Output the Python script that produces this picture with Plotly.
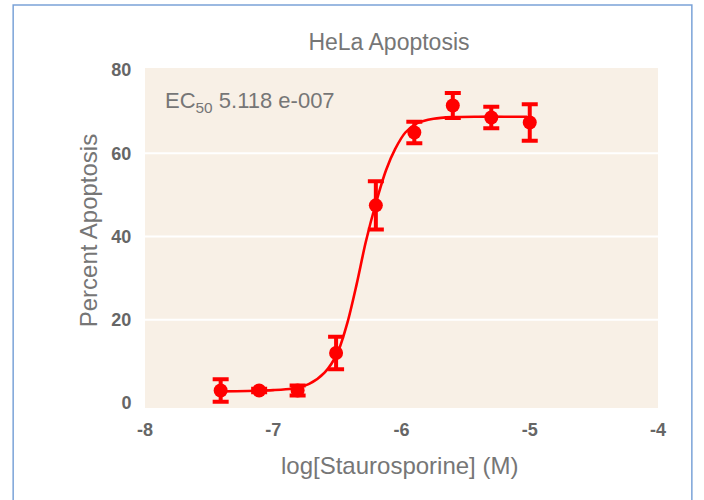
import plotly.graph_objects as go

# Measured data points
log_conc = [-7.41, -7.11, -6.81, -6.51, -6.20, -5.90, -5.60, -5.30, -5.00]
pct_apoptosis = [3.0, 3.0, 3.0, 12.0, 47.5, 65.0, 71.5, 68.6, 67.4]
pct_error = [2.7, 0.4, 1.2, 3.9, 5.8, 2.6, 3.0, 2.6, 4.4]

# Fitted curve
curve_x = [-7.43, -7.2, -7.0, -6.85, -6.72, -6.6, -6.5, -6.42, -6.35, -6.28,
           -6.2, -6.12, -6.05, -5.97, -5.88, -5.75, -5.6, -5.4, -5.2, -5.02]
curve_y = [2.8, 2.9, 3.1, 3.5, 4.6, 7.3, 12.0, 19.5, 28.5, 38.5,
           48.0, 56.0, 61.0, 65.0, 67.2, 68.3, 68.7, 68.8, 68.8, 68.8]

grid_values = [20, 40, 60]
x_ticks = [-8, -7, -6, -5, -4]
y_ticks = [0, 20, 40, 60, 80]

RED = "#FF0000"
GRAY = "#767676"
TICK_GRAY = "#666666"
FONT = "Liberation Sans, Arial, sans-serif"

fig = go.Figure()

fig.add_trace(go.Scatter(
    x=curve_x, y=curve_y, mode="lines",
    line=dict(color=RED, width=2.6, shape="spline", smoothing=0.8),
    hoverinfo="skip", showlegend=False,
))

fig.add_trace(go.Scatter(
    x=log_conc, y=pct_apoptosis, mode="markers",
    marker=dict(color=RED, size=14),
    error_y=dict(type="data", array=pct_error, visible=True,
                 color=RED, thickness=4, width=8),
    showlegend=False,
))

shapes = []
for g in grid_values:
    shapes.append(dict(type="line", xref="paper", yref="y", x0=0, x1=1,
                       y0=g, y1=g, line=dict(color="white", width=2), layer="below"))
# outer light-blue frame
shapes.append(dict(type="rect", xref="paper", yref="paper",
                   x0=-0.257, x1=1.066, y0=-0.4, y1=1.185,
                   line=dict(color="#7BA3D8", width=1.5), fillcolor="rgba(0,0,0,0)"))

annotations = [
    dict(text="EC<sub>50</sub> 5.118 e-007", xref="paper", yref="paper",
         x=0.035, y=0.90, xanchor="left", yanchor="middle", showarrow=False,
         font=dict(size=22, color=GRAY, family=FONT)),
    dict(text="log[Staurosporine] (M)", xref="paper", yref="paper",
         x=0.497, y=-0.168, xanchor="center", yanchor="middle", showarrow=False,
         font=dict(size=24, color=GRAY, family=FONT)),
    dict(text="Percent Apoptosis", xref="paper", yref="paper", textangle=-90,
         x=-0.111, y=0.52, xanchor="center", yanchor="middle", showarrow=False,
         font=dict(size=24, color=GRAY, family=FONT)),
]

fig.update_layout(
    width=704, height=500,
    margin=dict(l=145, r=46, t=68, b=92, autoexpand=False),
    paper_bgcolor="white",
    plot_bgcolor="#F8F0E6",
    font=dict(family=FONT, color=GRAY),
    title=dict(text="HeLa Apoptosis", xref="paper", x=0.4756, xanchor="center",
               yref="container", y=0.916, yanchor="middle",
               font=dict(size=23, color=GRAY, family=FONT)),
    shapes=shapes,
    annotations=annotations,
    xaxis=dict(range=[-8, -4], tickvals=x_ticks, ticktext=[str(v) for v in x_ticks],
               showgrid=False, zeroline=False, showline=False, automargin=False,
               ticks="outside", ticklen=5, tickcolor="rgba(0,0,0,0)",
               tickfont=dict(size=18, color=TICK_GRAY, family=FONT, weight="bold")),
    yaxis=dict(range=[-1.2, 80.5], tickvals=y_ticks, ticktext=[str(v) for v in y_ticks],
               showgrid=False, zeroline=False, showline=False, automargin=False,
               ticks="outside", ticklen=9, tickcolor="rgba(0,0,0,0)",
               tickfont=dict(size=18, color=TICK_GRAY, family=FONT, weight="bold")),
)

fig.write_html("out.html", config={"displayModeBar": False},
               post_script="document.body.style.margin='0';")
